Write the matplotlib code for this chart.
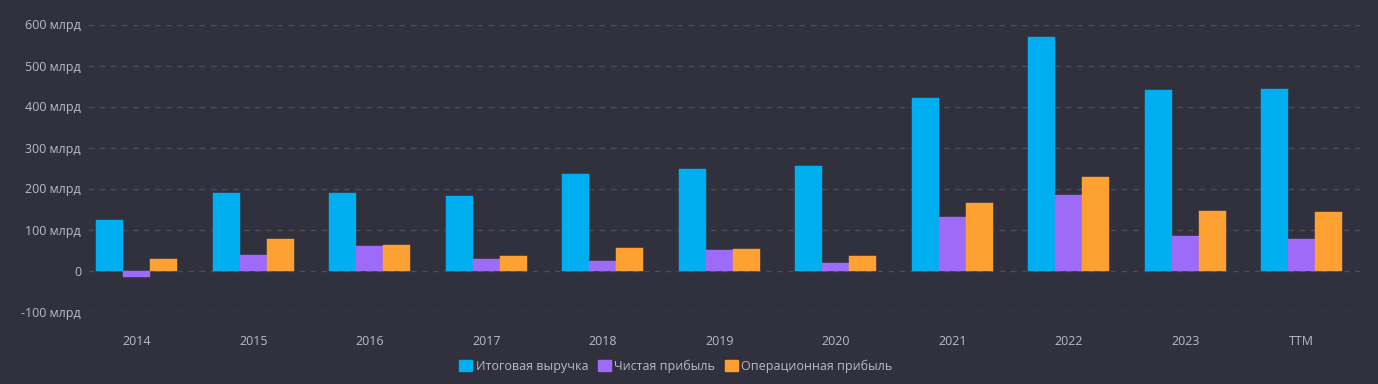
import matplotlib
matplotlib.use("Agg")
import matplotlib.pyplot as plt
import numpy as np
from matplotlib.patches import Patch

categories = ["2014", "2015", "2016", "2017", "2018", "2019", "2020", "2021", "2022", "2023", "TTM"]
revenue = [122, 190, 188, 182, 235, 248, 255, 421, 569, 441, 443]
net_income = [-17, 37, 60, 27, 22, 50, 18, 130, 185, 85, 77]
operating_income = [29, 76, 63, 35, 56, 52, 35, 165, 229, 145, 142]
series_names = ["Итоговая выручка", "Чистая прибыль", "Операционная прибыль"]
yticks = [-100, 0, 100, 200, 300, 400, 500, 600]
ytick_labels = ["-100 млрд", "0", "100 млрд", "200 млрд", "300 млрд", "400 млрд", "500 млрд", "600 млрд"]

colors = ["#00aff0", "#9d6bf7", "#ffa033"]
bg = "#31313d"
txt = "#b8bcc6"
grid = "#4b4b57"

plt.rcParams['font.family'] = ['Open Sans', 'DejaVu Sans']

W, H = 1378, 384
fig = plt.figure(figsize=(W / 100, H / 100), dpi=100, facecolor=bg)
left_px, right_px, top_px, bot_px = 88, 1360, 24.5, 311.5
ax = fig.add_axes([left_px / W, 1 - bot_px / H, (right_px - left_px) / W, (bot_px - top_px) / H])
ax.set_facecolor(bg)

x = np.arange(len(categories))
bw = 0.232
for i, (vals, c) in enumerate(zip([revenue, net_income, operating_income], colors)):
    ax.bar(x + (i - 1) * bw, vals, width=bw, color=c, zorder=3, edgecolor=c, linewidth=0.3)

ax.set_xlim(-0.42, 10.5)
ax.set_ylim(-100, 600)
ax.set_yticks(yticks)
ax.set_yticklabels(ytick_labels)
ax.set_xticks(x)
ax.set_xticklabels(categories)
ax.tick_params(axis='both', length=0, colors=txt, labelsize=9)
ax.tick_params(axis='y', pad=5)
ax.tick_params(axis='x', pad=17)
for s in ax.spines.values():
    s.set_visible(False)
ax.yaxis.grid(True, color=grid, linestyle=(0, (4, 4)), linewidth=1, zorder=0)
ax.set_axisbelow(True)

handles = [Patch(facecolor=c, edgecolor=c, label=n) for c, n in zip(colors, series_names)]
leg = fig.legend(handles=handles, loc='center', bbox_to_anchor=(676 / W, 1 - 366 / H), ncol=3,
                 frameon=False, fontsize=9, handlelength=1.0, handleheight=1.0,
                 handletextpad=0.3, columnspacing=0.8, labelcolor=txt)

fig.savefig("out.png", dpi=100, facecolor=bg)
